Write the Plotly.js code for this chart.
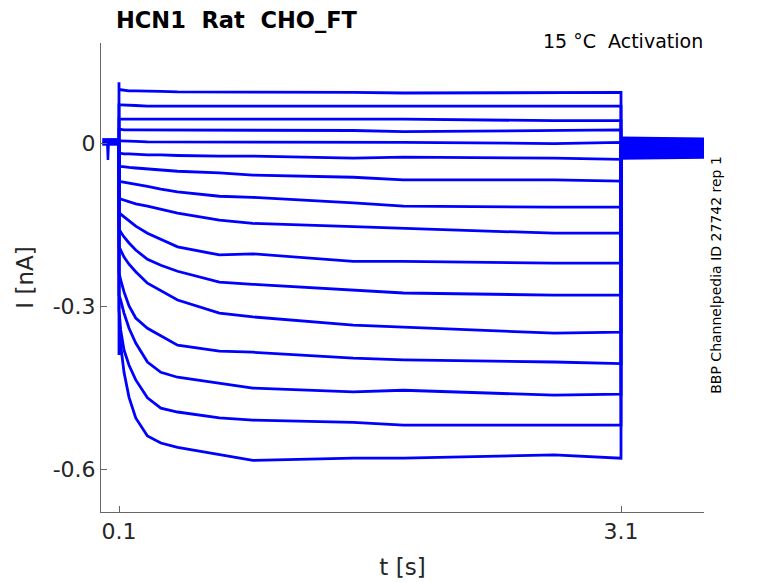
<html><head>
<meta charset="utf-8"/>
<title>HCN1 Rat CHO_FT</title>
<script src="https://cdn.plot.ly/plotly-3.0.1.min.js"></script>
<style>
  * { margin: 0px; padding: 0px }
  body { background: #fff }
  #plot { width: 778px; height: 583px }
</style>
</head><body>
<div id="plot"></div>
<script>
// sample times inside the voltage step (s)
var stepT = [0.1, 0.11, 0.13, 0.16, 0.2, 0.27, 0.35, 0.45, 0.7, 0.9, 1.5, 1.8, 2.7, 3.1];

// current of each sweep at stepT (nA), top to bottom
var i01 = [0.098, 0.098, 0.097, 0.096, 0.096, 0.095, 0.095, 0.094, 0.094, 0.093, 0.093, 0.092, 0.092, 0.093];
var i02 = [0.070, 0.070, 0.070, 0.070, 0.069, 0.068, 0.068, 0.068, 0.068, 0.068, 0.067, 0.067, 0.068, 0.068];
var i03 = [0.044, 0.044, 0.044, 0.044, 0.044, 0.044, 0.044, 0.044, 0.044, 0.044, 0.044, 0.044, 0.041, 0.041];
var i04 = [0.025, 0.025, 0.024, 0.024, 0.024, 0.024, 0.024, 0.024, 0.023, 0.023, 0.023, 0.021, 0.023, 0.024];
var i05 = [0.004, 0.004, 0.004, 0.003, 0.003, 0.002, 0.002, 0.002, 0.002, 0.001, 0.002, 0.001, -0.001, 0.001];
var i06 = [-0.019, -0.019, -0.020, -0.020, -0.021, -0.022, -0.022, -0.023, -0.024, -0.024, -0.028, -0.026, -0.028, -0.030];
var i07 = [-0.042, -0.043, -0.044, -0.045, -0.046, -0.048, -0.050, -0.052, -0.055, -0.059, -0.063, -0.068, -0.068, -0.070];
var i08 = [-0.070, -0.071, -0.072, -0.074, -0.076, -0.080, -0.085, -0.090, -0.098, -0.100, -0.110, -0.116, -0.118, -0.118];
var i09 = [-0.101, -0.103, -0.105, -0.109, -0.112, -0.116, -0.122, -0.129, -0.142, -0.148, -0.154, -0.157, -0.166, -0.166];
var i10 = [-0.127, -0.131, -0.136, -0.144, -0.153, -0.166, -0.177, -0.191, -0.206, -0.204, -0.218, -0.218, -0.221, -0.221];
var i11 = [-0.158, -0.164, -0.173, -0.184, -0.197, -0.214, -0.225, -0.236, -0.256, -0.260, -0.271, -0.276, -0.280, -0.280];
var i12 = [-0.191, -0.197, -0.210, -0.223, -0.237, -0.258, -0.272, -0.289, -0.313, -0.320, -0.335, -0.339, -0.350, -0.348];
var i13 = [-0.239, -0.252, -0.274, -0.300, -0.322, -0.341, -0.355, -0.372, -0.383, -0.385, -0.396, -0.399, -0.403, -0.406];
var i14 = [-0.280, -0.289, -0.313, -0.341, -0.368, -0.403, -0.422, -0.431, -0.442, -0.451, -0.458, -0.455, -0.464, -0.462];
var i15 = [-0.307, -0.344, -0.381, -0.409, -0.436, -0.469, -0.488, -0.495, -0.506, -0.510, -0.514, -0.519, -0.519, -0.519];
var i16 = [-0.344, -0.372, -0.422, -0.468, -0.506, -0.539, -0.552, -0.560, -0.574, -0.584, -0.580, -0.580, -0.574, -0.580];
var sweeps = [i01, i02, i03, i04, i05, i06, i07, i08, i09, i10, i11, i12, i13, i14, i15, i16];

// capacitive transient at step onset (only visible on the outer sweeps)
var onsetPeak = [0.112, null, null, null, null, null, null, null, null, null, null, null, null, null, null, -0.390];

// holding period before the step, with the small artefact
var preT = [0, 0.030, 0.034, 0.038, 0.1];
var preI = [0, 0, -0.031, 0, 0];
var preHi = [0.009, 0.009];
var preLo = [-0.005, -0.005];

// tail after the step: all sweeps overlap in one noisy band
var tailT = [3.1, 3.6];
var tailMid = -0.010;
var tailHi = [0.012, 0.010];
var tailLo = [-0.031, -0.029];

var blue = '#0000ff';
var traces = [];

// baseline band and tail band
traces.push({x: [preT[0], preT[4], preT[4], preT[0]], y: [preHi[0], preHi[1], preLo[1], preLo[0]],
    fill: 'toself', fillcolor: blue, line: {width: 0}, mode: 'lines', hoverinfo: 'skip'});
traces.push({x: [tailT[0], tailT[1], tailT[1], tailT[0]], y: [tailHi[0], tailHi[1], tailLo[1], tailLo[0]],
    fill: 'toself', fillcolor: blue, line: {width: 0}, mode: 'lines', hoverinfo: 'skip'});
traces.push({x: preT, y: preI, mode: 'lines', line: {color: blue, width: 2.5}});

sweeps.forEach(function(s, k){
    var x = [preT[4]];
    var y = [0];
    if(onsetPeak[k] !== null){
        x.push(stepT[0]);
        y.push(onsetPeak[k]);
    }
    for(var j = 0; j < stepT.length; j++){
        x.push(stepT[j]);
        y.push(s[j]);
    }
    x.push(tailT[0], tailT[1]);
    y.push(tailMid, tailMid);
    traces.push({x: x, y: y, mode: 'lines', line: {color: blue, width: 2.8}});
});

var font = 'DejaVu Sans, sans-serif';
var layout = {
    width: 778, height: 583,
    margin: {l: 101, r: 74, t: 43, b: 71},
    paper_bgcolor: '#fff', plot_bgcolor: '#fff',
    showlegend: false,
    font: {family: font, color: '#262626'},
    xaxis: {
        range: [-0.0076, 3.596], tickvals: [0.1, 3.1], ticktext: ['0.1', '3.1'],
        ticks: 'inside', ticklen: 6, tickcolor: '#666', tickwidth: 1,
        showline: true, linecolor: '#666', linewidth: 1, showgrid: false, zeroline: false,
        tickfont: {size: 22, color: '#262626'},
        title: {text: 't [s]', font: {size: 23, color: '#262626'}, standoff: 15}
    },
    yaxis: {
        range: [-0.679, 0.184], tickvals: [-0.6, -0.3, 0], ticktext: ['-0.6', '-0.3', '0'],
        ticks: 'inside', ticklen: 6, tickcolor: '#666', tickwidth: 1,
        showline: true, linecolor: '#666', linewidth: 1, showgrid: false, zeroline: false,
        tickfont: {size: 22, color: '#262626'},
        title: {text: 'I [nA]', font: {size: 23, color: '#262626'}, standoff: 12}
    },
    annotations: [
        {text: '<b>HCN1&nbsp;&nbsp;Rat&nbsp;&nbsp;CHO_FT</b>', xref: 'paper', yref: 'paper', x: 0.022, y: 1.049,
         xanchor: 'left', yanchor: 'middle', showarrow: false, font: {size: 22.5, color: '#000'}},
        {text: '15 °C&nbsp;&nbsp;Activation', xref: 'paper', yref: 'paper', x: 1.002, y: 1.004,
         xanchor: 'right', yanchor: 'middle', showarrow: false, font: {size: 19, color: '#000'}},
        {text: 'BBP Channelpedia ID 27742 rep 1', xref: 'paper', yref: 'paper', x: 1.02, y: 0.506,
         xanchor: 'center', yanchor: 'middle', textangle: -90, showarrow: false, font: {size: 14, color: '#000'}}
    ]
};

Plotly.newPlot('plot', traces, layout, {staticPlot: true});
</script>
</body></html>
